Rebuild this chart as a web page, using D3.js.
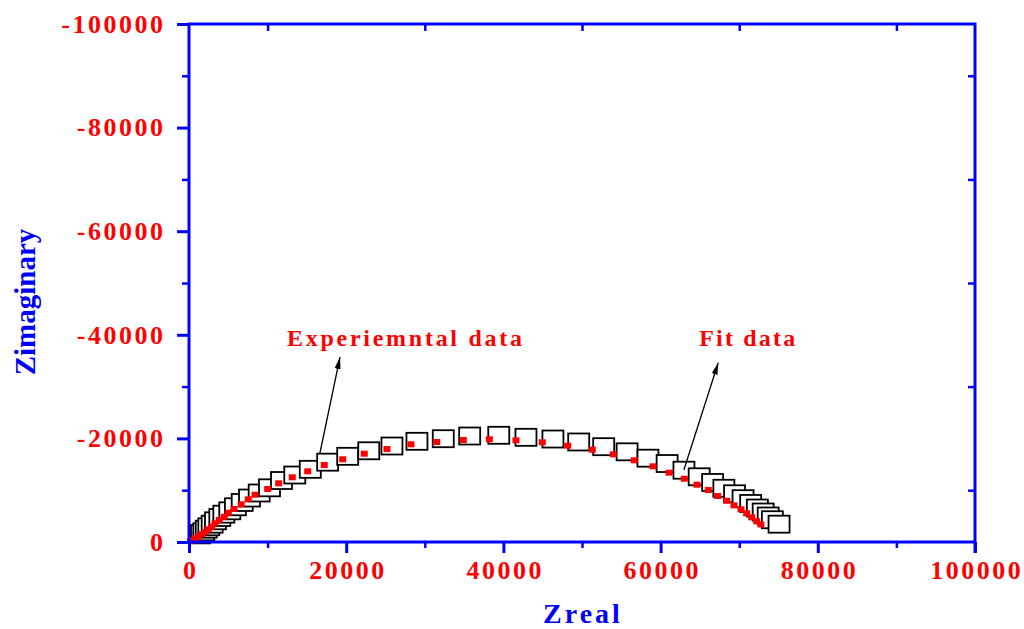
<!DOCTYPE html>
<html>
<head>
<meta charset="utf-8">
<script src="https://cdn.jsdelivr.net/npm/d3@7"></script>
<style>
  body { margin: 0; background: #fff; }
  svg { display: block; }
</style>
</head>
<body>
<div class="nyquist-plot"></div>
<script>
// experimental impedance points (Zreal, Zimaginary)
const expReal = [1350, 1590, 1880, 2190, 2520, 2950, 3370, 3920, 4430, 5190, 5910, 6770, 7700, 8930,
  10240, 11770, 13460, 15430, 17640, 20190, 22870, 25820, 29000, 32350, 35710, 39410, 42870, 46300,
  49580, 52760, 55740, 58390, 60830, 62970, 64910, 66620, 68050, 69410, 70490, 71460, 72310, 73050,
  73690, 74220, 75070];
const expImag = [-1380, -1640, -1970, -2470, -2930, -3440, -4090, -4730, -5370, -6020, -6800, -7630,
  -8490, -9460, -10460, -11870, -12930, -14030, -15410, -16540, -17610, -18530, -19440, -19940, -20460,
  -20600, -20210, -19880, -19310, -18400, -17410, -16180, -15150, -13860, -12590, -11490, -10370, -9310,
  -8360, -7440, -6560, -5790, -5020, -4300, -3440];

// fitted points
const fitReal = [190, 550, 850, 1180, 1620, 2040, 2460, 2890, 3310, 3850, 4490, 5000, 5730, 6650, 7540,
  8400, 10010, 11410, 13140, 15100, 17210, 19550, 22300, 25190, 28240, 31510, 34900, 38210, 41600, 44950,
  48180, 51310, 53980, 56650, 59030, 61070, 63010, 64630, 66070, 67260, 68410, 69340, 70230, 70950, 71590,
  72230, 72760];
const fitImag = [-190, -390, -710, -1020, -1490, -1930, -2450, -2950, -3610, -4250, -4880, -5660, -6370,
  -7280, -8240, -9130, -10230, -11330, -12490, -13650, -14860, -15970, -17050, -17950, -18860, -19310,
  -19690, -19830, -19630, -19250, -18590, -17820, -16930, -15770, -14610, -13380, -12220, -11060, -10040,
  -8880, -7970, -7080, -6310, -5540, -4770, -4000, -3380];

const xMajor = [0, 20000, 40000, 60000, 80000, 100000];
const xMinor = [10000, 30000, 50000, 70000, 90000];
const yMajor = [0, -20000, -40000, -60000, -80000, -100000];
const yMinor = [-10000, -30000, -50000, -70000, -90000];

const labels = [
  {text: "Experiemntal data", x: 12470, y: -37840, len: 235, from: [16660, -17180], to: [19210, -35710]},
  {text: "Fit data", x: 64910, y: -37840, len: 96, from: [62960, -13900], to: [67330, -34610]}
];

const expData = expReal.map((d, i) => ({x: d, y: expImag[i]}));
const fitData = fitReal.map((d, i) => ({x: d, y: fitImag[i]}));

const width = 1024;
const height = 629;
const margin = {top: 24, right: 49, bottom: 87, left: 189};
const blue = "#0000ff";
const red = "#ff0000";
const serif = "'Liberation Serif', 'Times New Roman', serif";

const svg = d3.select('.nyquist-plot')
  .append('svg')
  .attr('width', width)
  .attr('height', height);

const x = d3.scaleLinear().domain([0, 100000]).range([margin.left, width - margin.right]);
const y = d3.scaleLinear().domain([0, -100000]).range([height - margin.bottom, margin.top]);

const fmt = d => String(d);

// data first, axes frame on top
svg.append('g')
  .selectAll('rect')
  .data(expData)
  .enter()
  .append('rect')
  .attr('x', d => x(d.x) - 10.5)
  .attr('y', d => y(d.y) - 8.5)
  .attr('width', 21)
  .attr('height', 17)
  .attr('fill', '#fff')
  .attr('stroke', '#000')
  .attr('stroke-width', 1.8);

svg.append('g')
  .selectAll('rect')
  .data(fitData)
  .enter()
  .append('rect')
  .attr('x', d => x(d.x) - 3.5)
  .attr('y', d => y(d.y) - 3)
  .attr('width', 7)
  .attr('height', 6)
  .attr('fill', red);

function styleAxis(g) {
  g.select('.domain').remove();
  g.selectAll('.tick line').attr('stroke', blue);
  g.selectAll('text')
    .attr('fill', red)
    .style('font-family', serif)
    .style('font-weight', 'bold')
    .style('font-size', '26px')
    .style('letter-spacing', '2.5px');
}

// bottom
svg.append('g')
  .attr('transform', `translate(0,${y(0)})`)
  .call(d3.axisBottom(x).tickValues(xMajor).tickSize(11).tickPadding(8).tickFormat(fmt))
  .call(styleAxis)
  .call(g => g.selectAll('.tick line').attr('stroke-width', 3))
  .call(g => g.selectAll('text').attr('dx', 1.25));
svg.append('g')
  .attr('transform', `translate(0,${y(0)})`)
  .call(d3.axisBottom(x).tickValues(xMinor).tickSize(6).tickFormat(''))
  .call(styleAxis)
  .call(g => g.selectAll('.tick line').attr('stroke-width', 2.5));

// left
svg.append('g')
  .attr('transform', `translate(${x(0)},0)`)
  .call(d3.axisLeft(y).tickValues(yMajor).tickSize(12).tickPadding(11.5).tickFormat(fmt))
  .call(styleAxis)
  .call(g => g.selectAll('.tick line').attr('stroke-width', 3));
svg.append('g')
  .attr('transform', `translate(${x(0)},0)`)
  .call(d3.axisLeft(y).tickValues(yMinor).tickSize(7).tickFormat(''))
  .call(styleAxis)
  .call(g => g.selectAll('.tick line').attr('stroke-width', 2.5));

// top and right: inner minor ticks only
svg.append('g')
  .attr('transform', `translate(0,${y(-100000)})`)
  .call(d3.axisBottom(x).tickValues(xMinor).tickSize(7).tickFormat(''))
  .call(styleAxis)
  .call(g => g.selectAll('.tick line').attr('stroke-width', 2.5));
svg.append('g')
  .attr('transform', `translate(${x(100000)},0)`)
  .call(d3.axisLeft(y).tickValues(yMinor).tickSize(7).tickFormat(''))
  .call(styleAxis)
  .call(g => g.selectAll('.tick line').attr('stroke-width', 2.5));

// frame
svg.append('rect')
  .attr('x', x(0))
  .attr('y', y(-100000))
  .attr('width', x(100000) - x(0))
  .attr('height', y(0) - y(-100000))
  .attr('fill', 'none')
  .attr('stroke', blue)
  .attr('stroke-width', 3);

// small extension of right frame below the axis (tick at 100000)
svg.append('line')
  .attr('x1', x(100000)).attr('x2', x(100000))
  .attr('y1', y(0)).attr('y2', y(0) + 11)
  .attr('stroke', blue)
  .attr('stroke-width', 3);

// axis titles
svg.append('text')
  .attr('x', (x(0) + x(100000)) / 2 + 1)
  .attr('y', 623)
  .attr('text-anchor', 'middle')
  .attr('fill', blue)
  .style('font-family', serif)
  .style('font-weight', 'bold')
  .style('font-size', '28px')
  .style('letter-spacing', '3px')
  .text('Zreal');

svg.append('text')
  .attr('transform', 'translate(35,302) rotate(-90)')
  .attr('text-anchor', 'middle')
  .attr('fill', blue)
  .style('font-family', serif)
  .style('font-weight', 'bold')
  .style('font-size', '29px')
  .text('Zimaginary');

// annotations
svg.append('defs')
  .append('marker')
  .attr('id', 'arrow')
  .attr('markerUnits', 'userSpaceOnUse')
  .attr('viewBox', '0 0 12 8')
  .attr('refX', 12)
  .attr('refY', 4)
  .attr('markerWidth', 12)
  .attr('markerHeight', 8)
  .attr('orient', 'auto')
  .append('path')
  .attr('d', 'M0,1 L12,4 L0,7 Z')
  .attr('fill', '#000');

svg.selectAll('line.arrow')
  .data(labels)
  .enter()
  .append('line')
  .attr('class', 'arrow')
  .attr('x1', d => x(d.from[0]))
  .attr('y1', d => y(d.from[1]))
  .attr('x2', d => x(d.to[0]))
  .attr('y2', d => y(d.to[1]))
  .attr('stroke', '#000')
  .attr('stroke-width', 1.3)
  .attr('marker-end', 'url(#arrow)');

svg.selectAll('text.note')
  .data(labels)
  .enter()
  .append('text')
  .attr('class', 'note')
  .attr('x', d => x(d.x))
  .attr('y', d => y(d.y))
  .attr('textLength', d => d.len)
  .attr('lengthAdjust', 'spacing')
  .attr('fill', red)
  .style('font-family', serif)
  .style('font-weight', 'bold')
  .style('font-size', '24px')
  .text(d => d.text);
</script>
</body>
</html>
